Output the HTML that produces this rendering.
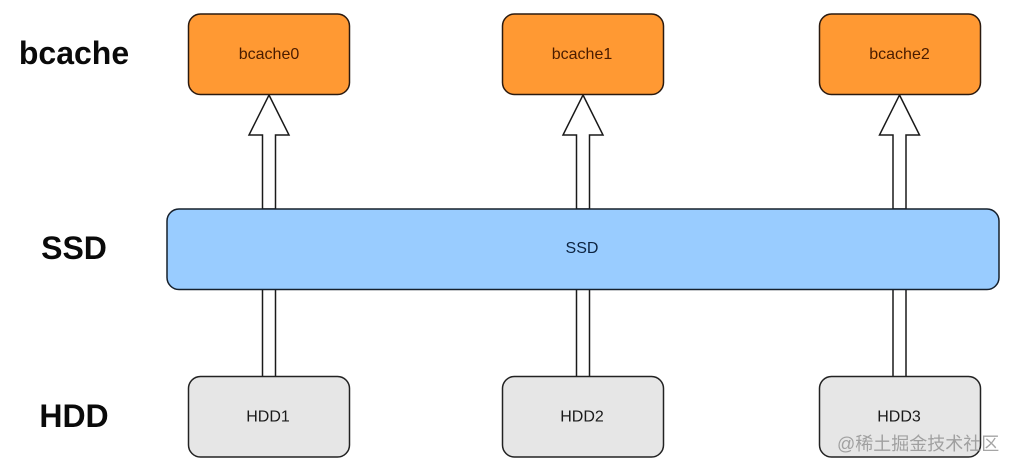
<!DOCTYPE html>
<html><head><meta charset="utf-8"><style>
html,body{margin:0;padding:0;background:#fff;width:1013px;height:471px;overflow:hidden}
svg{display:block}
text{font-family:"Liberation Sans",sans-serif}
</style></head><body>
<svg width="1013" height="471" viewBox="0 0 1013 471" xmlns="http://www.w3.org/2000/svg">
<rect width="1013" height="471" fill="#fff"/>
<g fill="#fff" stroke="#1a1a1a" stroke-width="1.5">
<polygon points="269,95 289,135 275.500,135 275.500,209 262.500,209 262.500,135 249,135"/>
<polygon points="583,95 603,135 589.500,135 589.500,209 576.500,209 576.500,135 563,135"/>
<polygon points="899.500,95 919.500,135 906,135 906,209 893,209 893,135 879.500,135"/>
<path d="M262.500 289V377M275.500 289V377M576.500 289V377M589.500 289V377M893 289V377M906 289V377" fill="none"/>
</g>
<g stroke="#2a1a10" stroke-width="1.5" fill="#ff9933">
<rect x="188.500" y="14" width="161" height="80.500" rx="12"/>
<rect x="502.500" y="14" width="161" height="80.500" rx="12"/>
<rect x="819.500" y="14" width="161" height="80.500" rx="12"/>
</g>
<rect x="167" y="209" width="832" height="80.500" rx="12" fill="#99ccff" stroke="#16202c" stroke-width="1.5"/>
<g stroke="#222" stroke-width="1.5" fill="#e6e6e6">
<rect x="188.500" y="376.500" width="161" height="80.500" rx="12"/>
<rect x="502.500" y="376.500" width="161" height="80.500" rx="12"/>
<rect x="819.500" y="376.500" width="161" height="80.500" rx="12"/>
</g>
<g font-size="16" text-anchor="middle">
<text x="269" y="59" fill="#4a1c00">bcache0</text>
<text x="582" y="59" fill="#4a1c00">bcache1</text>
<text x="899.500" y="59" fill="#4a1c00">bcache2</text>
<text x="582" y="253" fill="#0c2340">SSD</text>
<text x="268" y="421.500" fill="#1a1a1a">HDD1</text>
<text x="582" y="421.500" fill="#1a1a1a">HDD2</text>
<text x="899" y="421.500" fill="#1a1a1a">HDD3</text>
</g>
<g font-size="32" font-weight="bold" text-anchor="middle" fill="#0a0a0a">
<text x="74" y="64">bcache</text>
<text x="74" y="259">SSD</text>
<text x="74" y="427">HDD</text>
</g>
<text x="837" y="450" font-size="18" fill="#8f8f8f" opacity="0.8" style="font-family:'Liberation Sans','Noto Sans CJK SC',sans-serif">@稀土掘金技术社区</text>
</svg>
</body></html>
